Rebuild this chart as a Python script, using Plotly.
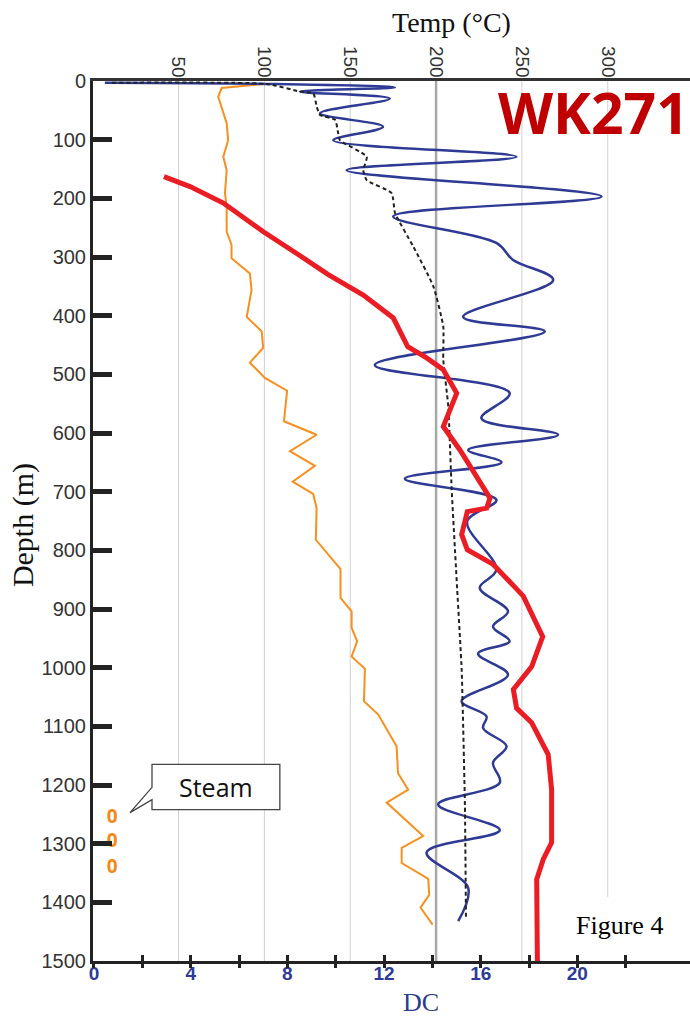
import plotly.graph_objects as go

# ---- Well log data -------------------------------------------------------
# Thick red profile (temperature, top axis)
red_depth = [163, 180, 208, 257, 294, 330, 365, 404, 453, 472, 492, 532, 589,
             629, 711, 728, 734, 773, 799, 824, 878, 947, 998, 1037, 1069,
             1094, 1148, 1208, 1298, 1327, 1361, 1500]
red_temp = [41.5, 56.7, 76.1, 99.4, 118.8, 137.2, 157.6, 175.1, 183.5, 194.5,
            204.2, 212.0, 204.2, 213.9, 231.4, 229.5, 218.2, 214.9, 218.2,
            233.3, 250.8, 262.1, 255.7, 245.0, 246.9, 255.7, 265.3, 267.3,
            267.3, 262.4, 258.6, 259.0]

# Dashed black profile (temperature, top axis)
dash_depth = [3, 5, 18, 21, 44, 58, 66, 89, 101, 129, 152, 169, 191, 225, 282,
              350, 419, 475, 555, 697, 867, 1003, 1066, 1236, 1426]
dash_temp = [11.2, 101.3, 120.7, 128.5, 130.5, 132.4, 141.1, 143.0, 144.0,
             159.6, 157.6, 159.6, 174.1, 176.1, 186.7, 198.4, 204.2, 204.2,
             207.1, 209.1, 212.3, 214.9, 215.5, 216.8, 217.4]

# Blue wavy log (DC, bottom axis)
blue_depth = [3, 5, 11, 18, 30, 55, 78, 101, 129, 152, 197, 231, 276, 305, 339,
              402, 427, 484, 532, 575, 603, 629, 650, 678, 714, 751, 833, 864,
              904, 930, 955, 976, 1012, 1057, 1083, 1103, 1134, 1162, 1196,
              1233, 1277, 1315, 1375, 1432]
blue_dc = [0.45, 7.14, 12.45, 8.52, 12.24, 9.35, 11.96, 9.90, 17.48, 10.45,
           21.0, 12.38, 16.65, 17.34, 19.0, 15.27, 18.65, 11.62, 17.2, 16.03,
           19.20, 15.48, 16.86, 12.86, 16.65, 15.44, 16.65, 15.96, 17.13,
           16.51, 17.20, 15.89, 17.13, 15.21, 16.24, 16.10, 17.07, 16.51,
           16.79, 14.24, 16.79, 13.76, 15.48, 15.07]

# Orange log (DC, bottom axis)
orange_depth = [5, 7, 12, 27, 72, 101, 129, 152, 191, 214, 257, 279, 302, 328,
                356, 402, 427, 455, 480, 506, 528, 580, 603, 631, 656, 683,
                704, 728, 782, 807, 832, 881, 904, 932, 955, 981, 1002, 1057,
                1080, 1134, 1180, 1208, 1230, 1287, 1307, 1333, 1360, 1387,
                1409, 1438]
orange_dc = [6.95, 6.59, 5.28, 5.14, 5.49, 5.55, 5.35, 5.49, 5.42, 5.49, 5.49,
             5.69, 5.69, 6.45, 6.52, 6.32, 6.94, 7.00, 6.45, 7.07, 7.99, 7.86,
             9.21, 8.11, 9.14, 8.22, 9.07, 9.21, 9.18, 9.69, 10.20, 10.20,
             10.66, 10.66, 10.89, 10.66, 11.21, 11.17, 11.76, 12.52, 12.58,
             13.00, 12.11, 13.62, 12.73, 12.73, 13.83, 13.87, 13.51, 14.01]

# Steam entries
steam_depth = [1257, 1298, 1342]
steam_dc = [0.75, 0.75, 0.75]

# Axis ticks
depth_ticks = list(range(0, 1501, 100))
dc_ticks = [0, 2, 4, 6, 8, 10, 12, 14, 16, 18, 20, 22]
dc_labels = ["0", "", "4", "", "8", "", "12", "", "16", "", "20", ""]
temp_ticks = [50, 100, 150, 200, 250, 300]

DC_RANGE = [-0.041, 24.66]
TEMP_RANGE = [0.17, 347.9]

SANS = "Liberation Sans, Arial, sans-serif"
SERIF = "Liberation Serif, Times New Roman, serif"

fig = go.Figure()

fig.add_trace(go.Scatter(x=orange_dc, y=orange_depth, mode="lines",
                         line=dict(color="#f7901e", width=2),
                         xaxis="x", yaxis="y", showlegend=False))
fig.add_trace(go.Scatter(x=blue_dc, y=blue_depth, mode="lines",
                         line=dict(color="#2e3a94", width=2.5, shape="spline",
                                   smoothing=1.0),
                         xaxis="x", yaxis="y", showlegend=False))
fig.add_trace(go.Scatter(x=steam_dc, y=steam_depth, mode="text",
                         text=["0", "0", "0"],
                         textfont=dict(family="Open Sans", size=19,
                                       color="#f28a1a", weight=700),
                         xaxis="x", yaxis="y", showlegend=False))
fig.add_trace(go.Scatter(x=dash_temp, y=dash_depth, mode="lines",
                         line=dict(color="#222222", width=2, dash="4px,3px",
                                   shape="spline", smoothing=0.5),
                         xaxis="x2", yaxis="y", showlegend=False))
fig.add_trace(go.Scatter(x=red_temp, y=red_depth, mode="lines",
                         line=dict(color="#ea1c24", width=5),
                         xaxis="x2", yaxis="y", showlegend=False))
# carrier for the lower half of the bottom ticks
fig.add_trace(go.Scatter(x=[], y=[], xaxis="x3", yaxis="y", showlegend=False))

fig.update_layout(
    width=690, height=1016,
    margin=dict(l=93, r=0, t=81, b=55),
    paper_bgcolor="white", plot_bgcolor="white",
    xaxis=dict(range=DC_RANGE, tickvals=dc_ticks, ticktext=dc_labels,
               ticks="inside", ticklen=6, tickwidth=3, tickcolor="#222",
               showline=True, linecolor="#222", linewidth=3,
               showgrid=False, zeroline=False, ticklabelstandoff=-7,
               tickfont=dict(family=SANS, size=19, color="#2e3b96", weight=700)),
    xaxis3=dict(range=DC_RANGE, overlaying="x", side="bottom", anchor="y",
                tickvals=dc_ticks, ticks="outside", ticklen=6, tickwidth=3,
                tickcolor="#222", showticklabels=False, showline=False,
                showgrid=False, zeroline=False),
    xaxis2=dict(range=TEMP_RANGE, overlaying="x", side="top", anchor="y",
                tickvals=temp_ticks, ticks="", tickangle=90,
                showline=True, linecolor="#333", linewidth=2.5,
                showgrid=False, zeroline=False, ticklabelstandoff=-6,
                tickfont=dict(family=SANS, size=19, color="#333")),
    yaxis=dict(range=[1500, 0], tickvals=depth_ticks,
               ticks="inside", ticklen=19, tickwidth=5, tickcolor="#222",
               showline=True, linecolor="#222", linewidth=3,
               showgrid=False, zeroline=False,
               tickfont=dict(family=SANS, size=20, color="#333")),
)

# vertical temperature grid lines (the 300 °C line stops above the caption)
grid_bottom = {50: 1500, 100: 1500, 150: 1500, 200: 1500, 250: 1500, 300: 1391}
shapes = []
for t in temp_ticks:
    shapes.append(dict(type="line", xref="x2", yref="y", x0=t, x1=t,
                       y0=0, y1=grid_bottom[t], layer="below",
                       line=dict(color="#a8a8a8" if t == 200 else "#d0d0d0",
                                 width=2.5 if t == 200 else 1)))

# speech-bubble callout for the steam entries
shapes.append(dict(type="path", xref="x", yref="y",
                   path="M 2.40,1165 L 7.69,1165 L 7.69,1242 L 2.40,1242 "
                        "L 2.40,1225 L 1.49,1247 L 2.40,1204 Z",
                   fillcolor="white", line=dict(color="#444", width=1.3),
                   layer="above"))

annotations = [
    dict(text="Temp (°C)", xref="paper", yref="paper", x=0.6005, y=1.066,
         xanchor="center", yanchor="middle", showarrow=False,
         font=dict(family=SERIF, size=28, color="#111")),
    dict(text="DC", xref="paper", yref="paper", x=0.549, y=-0.047,
         xanchor="center", yanchor="middle", showarrow=False,
         font=dict(family=SERIF, size=26, color="#2b3b8c")),
    dict(text="Depth (m)", xref="paper", yref="paper", x=-0.117, y=0.4955,
         xanchor="center", yanchor="middle", showarrow=False, textangle=-90,
         font=dict(family=SERIF, size=30, color="#111")),
    dict(text="WK271", xref="paper", yref="paper", x=0.838, y=0.9648,
         xanchor="center", yanchor="middle", showarrow=False,
         font=dict(family="Open Sans", size=57, color="#c00000", weight=700)),
    dict(text="Figure 4", xref="paper", yref="paper", x=0.8827, y=0.0398,
         xanchor="center", yanchor="middle", showarrow=False,
         font=dict(family=SERIF, size=26, color="#000")),
    dict(text="Steam", xref="paper", yref="paper", x=0.206, y=0.198,
         xanchor="center", yanchor="middle", showarrow=False,
         font=dict(family="Open Sans", size=25, color="#111")),
]

fig.update_layout(shapes=shapes, annotations=annotations)

fig.write_html("out.html")
